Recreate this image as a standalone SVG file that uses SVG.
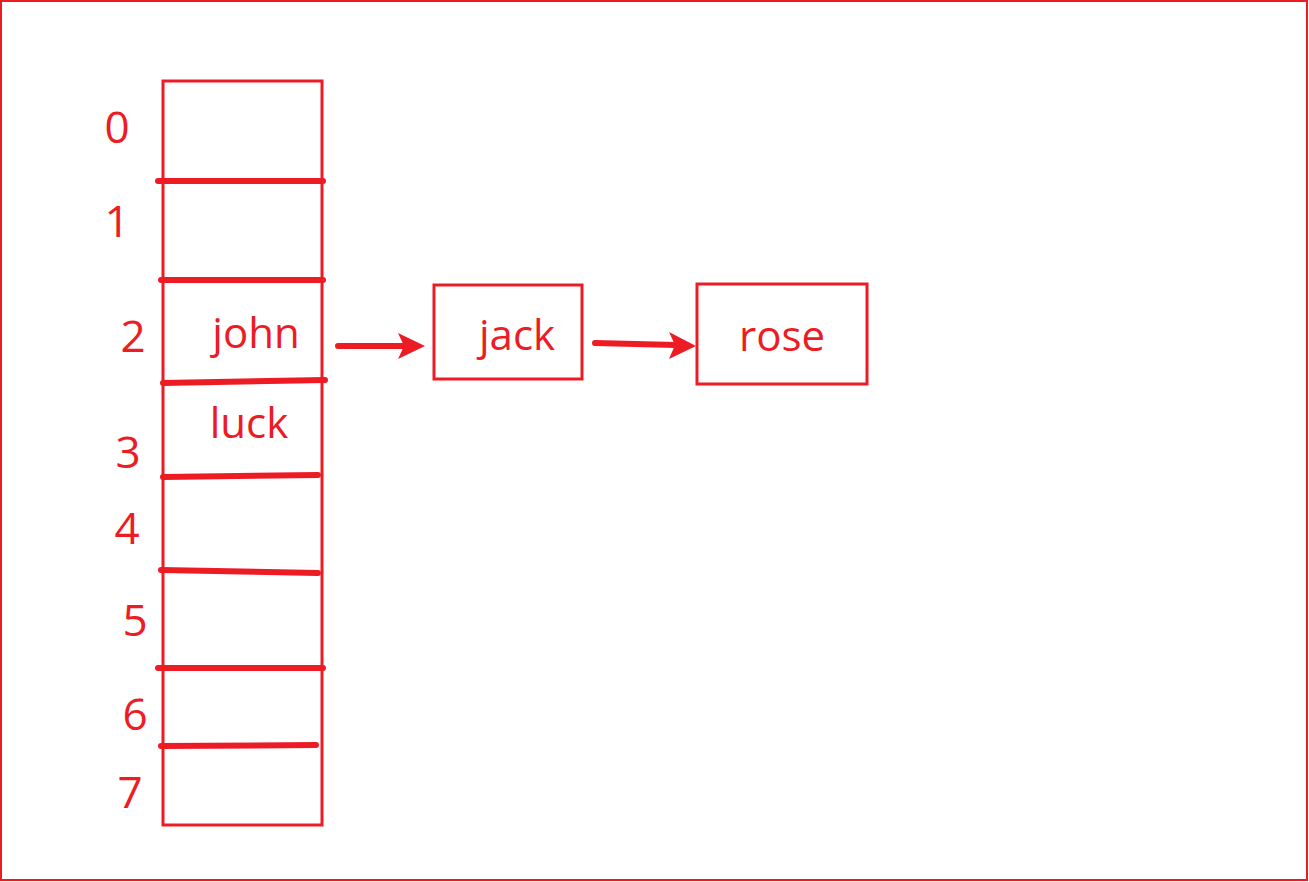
<svg xmlns="http://www.w3.org/2000/svg" width="1309" height="882" viewBox="0 0 1309 882">
<style>
.box{fill:none;stroke:#ed1c24;stroke-width:3}
.sep{fill:none;stroke:#ed1c24;stroke-width:6;stroke-linecap:round}
.conn{fill:none;stroke:#ed1c24;stroke-width:6;stroke-linecap:round}
.head{fill:#ed1c24;stroke:none}
.idx{font-family:"Open Sans","Liberation Sans",sans-serif;font-size:44px;fill:#ed1c24;text-anchor:middle}
.lbl{font-family:"Open Sans","Liberation Sans",sans-serif;font-size:42px;fill:#ed1c24;text-anchor:middle}
</style>
<rect x="0" y="0" width="1309" height="882" fill="#ffffff"/>
<rect x="1" y="1" width="1306" height="879" fill="none" stroke="#ed1c24" stroke-width="2"/>
<g id="table">
<rect class="box" x="163" y="81" width="159" height="744"/>
<path class="sep" d="M158,181 L323,181"/>
<path class="sep" d="M161,280 L323,280"/>
<path class="sep" d="M163,383 L325,380"/>
<path class="sep" d="M163,477 L318,475"/>
<path class="sep" d="M161,570 L318,573"/>
<path class="sep" d="M158,668 L323,668"/>
<path class="sep" d="M161,746 L316,745"/>
<text class="idx" x="117" y="143">0</text>
<text class="idx" x="117" y="237">1</text>
<text class="idx" x="133" y="352">2</text>
<text class="idx" x="128" y="468">3</text>
<text class="idx" x="127" y="544">4</text>
<text class="idx" x="135" y="636">5</text>
<text class="idx" x="135" y="730">6</text>
<text class="idx" x="130" y="808">7</text>
<text class="lbl" x="256" y="348">john</text>
<text class="lbl" x="249" y="438">luck</text>
</g>
<g id="jack">
<rect class="box" x="434" y="285" width="148" height="94"/>
<text class="lbl" x="517" y="350">jack</text>
</g>
<g id="rose">
<rect class="box" x="697" y="284" width="170" height="100"/>
<text class="lbl" x="782" y="351">rose</text>
</g>
<g id="connectors">
<path class="conn" d="M338,346 L405,346"/>
<polygon class="head" points="398,333 425,346 398,359 404,346"/>
<path class="conn" d="M595,343 L676,345"/>
<polygon class="head" points="669,332 696,346 669,359 675,345"/>
</g>
</svg>
